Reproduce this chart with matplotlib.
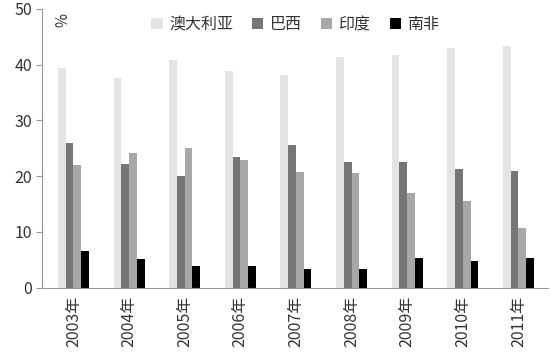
import numpy as np
import matplotlib.pyplot as plt

plt.rcParams['font.family'] = ['Noto Sans CJK SC', 'DejaVu Sans']

years = ['2003年', '2004年', '2005年', '2006年', '2007年', '2008年', '2009年', '2010年', '2011年']
series = ['澳大利亚', '巴西', '印度', '南非']
australia = [39.4, 37.6, 40.8, 38.9, 38.1, 41.4, 41.7, 43.0, 43.3]
brazil = [26.0, 22.1, 20.0, 23.5, 25.5, 22.6, 22.6, 21.2, 21.0]
india = [21.9, 24.2, 25.0, 22.9, 20.8, 20.5, 17.0, 15.6, 10.7]
south_africa = [6.5, 5.2, 3.8, 3.8, 3.3, 3.3, 5.3, 4.7, 5.3]
colors = ['#e4e4e4', '#767676', '#a8a8a8', '#000000']

fig = plt.figure(figsize=(5.5, 3.55), dpi=100)
ax = fig.add_axes([0.077, 0.19, 0.92, 0.785])

x = np.arange(len(years))
w = 0.14
for i, (vals, name) in enumerate(zip([australia, brazil, india, south_africa], series)):
    ax.bar(x + (i - 1.5) * w, vals, w, color=colors[i], label=name)

ax.set_xlim(-0.56, len(years) - 0.46)
ax.set_ylim(0, 50)
ax.set_yticks(range(0, 51, 10))
ax.set_xticks(x)
ax.set_xticklabels(years, rotation=90, fontsize=11.5, color='#333333')
ax.tick_params(axis='x', length=0, pad=6)
ax.tick_params(axis='y', length=4, width=0.8, color='#999999', labelsize=11.5, labelcolor='#333333')
for s in ['top', 'right']:
    ax.spines[s].set_visible(False)
for s in ['left', 'bottom']:
    ax.spines[s].set_color('#999999')
    ax.spines[s].set_linewidth(0.8)

ax.text(0.03, 0.985, '%', transform=ax.transAxes, rotation=-90, va='top', ha='center',
        fontsize=11, color='#333333')
ax.legend(loc='upper center', bbox_to_anchor=(0.50, 1.025), ncol=4, frameon=False,
          fontsize=11.5, handlelength=0.7, handleheight=0.7, handletextpad=0.4,
          columnspacing=1.2, labelcolor='#333333')

fig.savefig('out.png', dpi=100)
